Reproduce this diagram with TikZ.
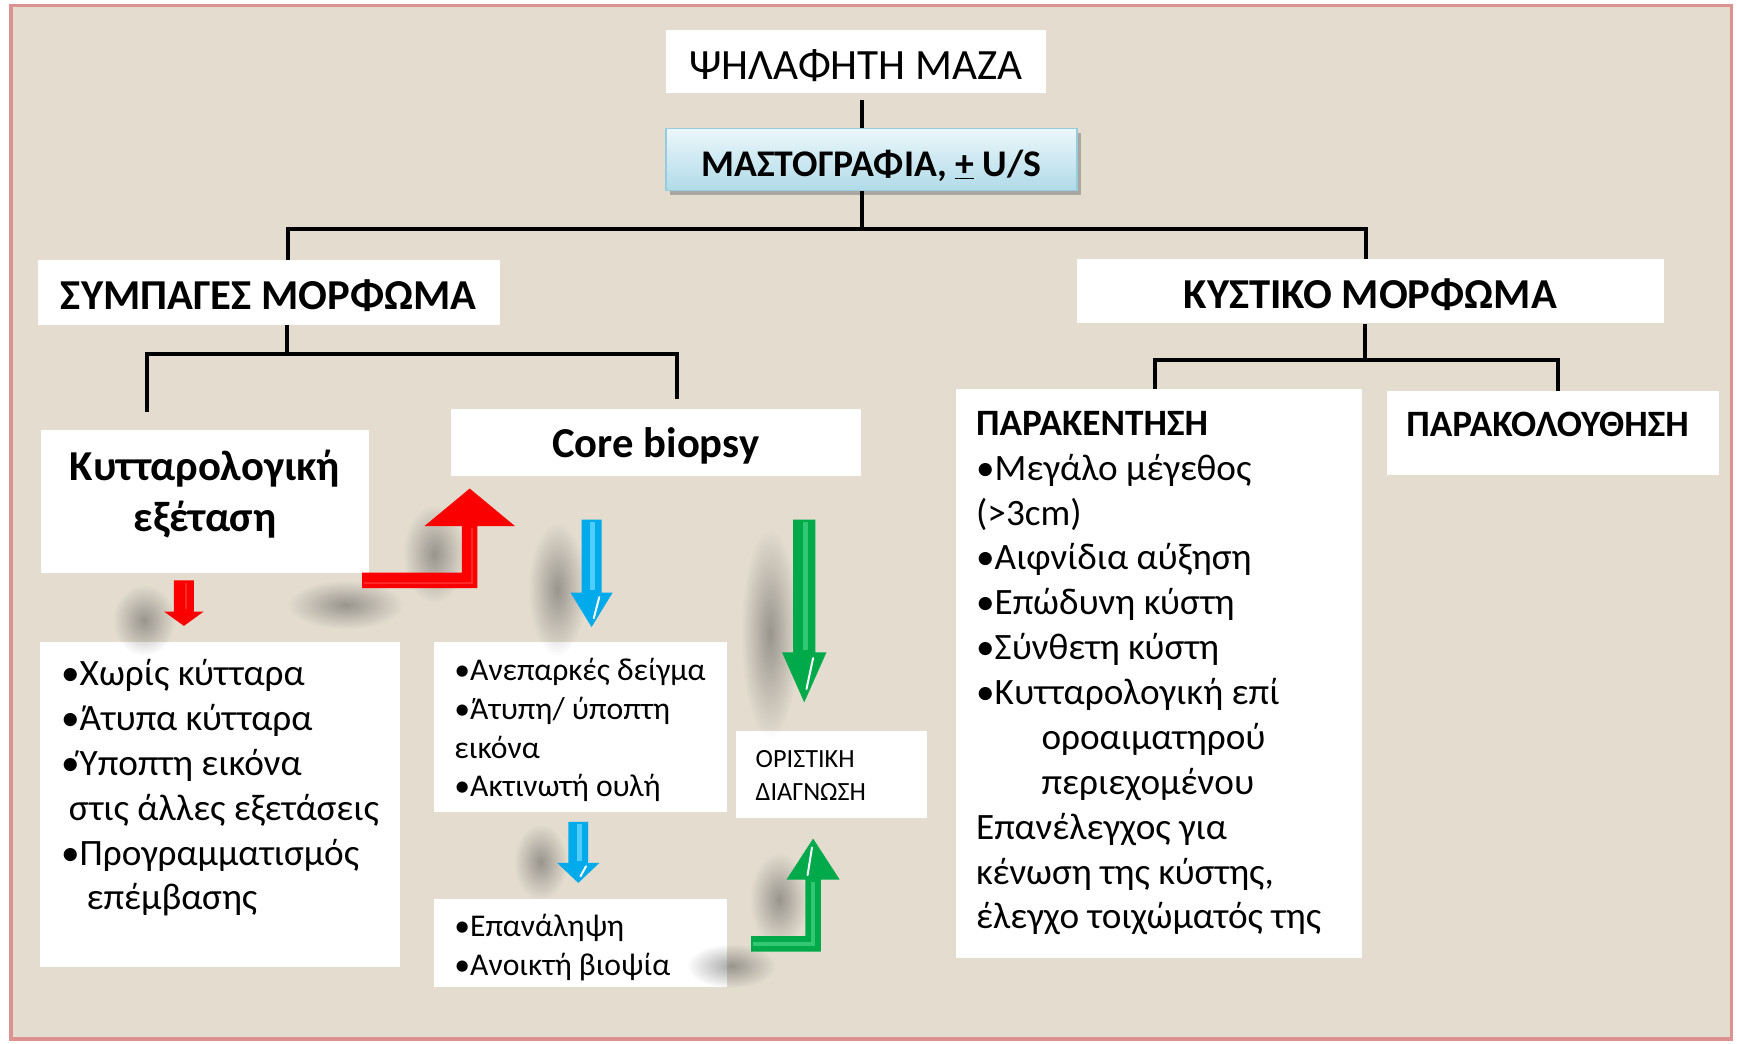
\documentclass[tikz,border=0pt]{standalone}
\usepackage{fontspec}
\setmainfont{Carlito}
\usetikzlibrary{positioning,shadows,fadings}
\definecolor{paper}{RGB}{227,220,207}
\definecolor{frame}{RGB}{221,146,146}
\definecolor{skytop}{RGB}{236,247,251}
\definecolor{skybot}{RGB}{176,219,232}
\definecolor{skyline}{RGB}{150,205,222}
\definecolor{arrred}{RGB}{250,0,0}
\definecolor{arrredlt}{RGB}{255,40,40}
\definecolor{arrblue}{RGB}{0,170,235}
\definecolor{arrbluelt}{RGB}{80,205,250}
\definecolor{arrgreen}{RGB}{0,170,75}
\definecolor{arrgreenlt}{RGB}{50,200,115}
\tikzfading[name=blobfade,inner color=transparent!0,outer color=transparent!100]

\begin{document}
\begin{tikzpicture}[x=1pt,y=-1pt,
every node/.style={inner sep=0pt},
wbox/.style={fill=white,draw=none},
tree/.style={line width=3.6pt},
big/.style={font=\fontsize{39}{46}\selectfont,text height=32.6pt,text depth=0pt},
head/.style={font=\fontsize{38.5}{46}\selectfont\bfseries,text height=31.3pt,text depth=0pt},
txt/.style={font=\fontsize{33.6}{40.5}\selectfont,align=left,anchor=north west},
smalltxt/.style={font=\fontsize{28.6}{35}\selectfont,align=left,anchor=north west},
tinytxt/.style={font=\fontsize{23.7}{30}\selectfont,align=left,anchor=north west},
skybox/.style={top color=skytop,bottom color=skybot,draw=skyline,line width=1.5pt,
  drop shadow={shadow xshift=4pt,shadow yshift=-4pt,fill=black!55}},
blob/.style={fill=black!80,opacity=.42,path fading=blobfade},
gloss/.style={white,line width=1.8pt,line cap=round},
]
\fill[white] (0,0) rectangle (1568,942);
\useasboundingbox (0,0) rectangle (1568,942);
\draw[frame,line width=3pt,fill=paper] (10,5) rectangle (1563,938);

% top of the tree
\node[wbox,big,minimum width=343pt,minimum height=57pt] (psi) at (772.5,55.5) {ΨΗΛΑΦΗΤΗ ΜΑΖΑ};
\node[skybox,font=\fontsize{34}{40}\selectfont\bfseries,text height=30.5pt,text depth=0pt,
  minimum width=371pt,minimum height=56pt] (masto) at (786.5,144) {ΜΑΣΤΟΓΡΑΦΙΑ, \underline{+} U/S};
\node[wbox,head,minimum width=417pt,minimum height=58pt] (symp) at (242.5,264) {ΣΥΜΠΑΓΕΣ ΜΟΡΦΩΜΑ};
\node[wbox,head,minimum width=530pt,minimum height=58pt] (kyst) at (1237,263) {ΚΥΣΤΙΚΟ ΜΟΡΦΩΜΑ};

% solid mass branch
\node[wbox,minimum width=296pt,minimum height=129pt] (kyt) at (185,452.5) {};
\node[head,text height=,text depth=,align=center] (kyttitle) at (185,446) {Κυτταρολογική\\εξέταση};
\node[wbox,head,text depth=4.3pt,minimum width=370pt,minimum height=61pt] (core) at (592,399.5) {Core biopsy};
\node[wbox,minimum width=325pt,minimum height=294pt,anchor=north west] (kytlist) at (36,579) {};
\node[txt] (kyttext) at (55,595) {•Χωρίς κύτταρα\\•Άτυπα κύτταρα\\•Ύποπτη εικόνα\\\hspace*{7pt}στις άλλες εξετάσεις\\•Προγραμματισμός\\\hspace*{23pt}επέμβασης};
\node[wbox,minimum width=264pt,minimum height=154pt,anchor=north west] (corelist) at (392,579) {};
\node[smalltxt] (coretext) at (410,594) {•Ανεπαρκές δείγμα\\•Άτυπη/ ύποπτη\\εικόνα\\•Ακτινωτή ουλή};
\node[wbox,minimum width=264pt,minimum height=80pt,anchor=north west] (again) at (392,811) {};
\node[smalltxt] (againtext) at (410,825) {•Επανάληψη\\•Ανοικτή βιοψία};
\node[wbox,minimum width=173pt,minimum height=78pt,anchor=north west] (orist) at (664,660) {};
\node[tinytxt] (oristtext) at (682,677) {ΟΡΙΣΤΙΚΗ\\ΔΙΑΓΝΩΣΗ};

% cyst branch
\node[wbox,minimum width=366pt,minimum height=514pt,anchor=north west] (parak) at (863,351) {};
\node[txt] (paraktext) at (881,371) {\textbf{ΠΑΡΑΚΕΝΤΗΣΗ}\\•Μεγάλο μέγεθος\\(>3cm)\\•Αιφνίδια αύξηση\\•Επώδυνη κύστη\\•Σύνθετη κύστη\\•Κυτταρολογική επί\\\hspace*{59pt}οροαιματηρού\\\hspace*{59pt}περιεχομένου\\Επανέλεγχος για\\κένωση της κύστης,\\έλεγχο τοιχώματός της};
\node[wbox,font=\fontsize{33.6}{40}\selectfont\bfseries,text height=21.2pt,text depth=14.8pt,
  minimum width=300pt,minimum height=76pt] (parakol) at (1402,391) {ΠΑΡΑΚΟΛΟΥΘΗΣΗ\hspace*{10pt}};

% connectors
\coordinate (j0) at (778,207);
\coordinate (jl) at (260,207);
\coordinate (jr) at (1233,207);
\draw[tree,shorten <=6pt] (psi.south -| j0) -- (masto.north -| j0);
\draw[tree] (masto.south -| j0) -- (j0);
\draw[tree] (symp.north -| jl) -- (jl) -- (jr) -- (kyst.north -| jr);
\coordinate (k0) at (259,320);
\coordinate (kl) at (133,320);
\coordinate (kr) at (611,320);
\draw[tree] (symp.south -| k0) -- (k0);
\draw[tree,shorten <=16pt,shorten >=9pt] (kyt.north -| kl) -- (kl) -- (kr) -- (core.north -| kr);
\coordinate (m0) at (1232,325);
\coordinate (ml) at (1043,325);
\coordinate (mr) at (1406,325);
\draw[tree] (kyst.south -| m0) -- (m0);
\draw[tree] (parak.north -| ml) -- (ml) -- (mr) -- (parakol.north -| mr);

% soft shadows behind the arrows
\fill[blob] (130,560) ellipse (28 and 32);
\fill[blob] (312,546) ellipse (52 and 22);
\fill[blob] (392,500) ellipse (28 and 44);
\fill[blob] (503,532) ellipse (26 and 60);
\fill[blob] (695,572) ellipse (26 and 94);
\fill[blob] (488,778) ellipse (24 and 34);
\fill[blob] (703,812) ellipse (26 and 42);
\fill[blob] (660,872) ellipse (40 and 20);

% block arrows
\fill[arrred] (157,524) -- (175,524) -- (175,552) -- (184,552) -- (166,565) -- (148,552) -- (157,552) -- cycle;
\draw[arrredlt,line width=2pt] (168,526) -- (168,550);
\fill[arrred] (327,517) -- (417,517) -- (417,475) -- (383,475) -- (424,441) -- (465,475) -- (431,475) -- (431,531) -- (327,531) -- cycle;
\draw[arrredlt,line width=2pt] (329,526) -- (426,526) -- (426,477);
\fill[arrblue] (525,469) -- (543,469) -- (543,535) -- (553,535) -- (534,566) -- (515,535) -- (525,535) -- cycle;
\draw[arrbluelt,line width=5pt] (535,471) -- (535,533);
\draw[gloss] (541,539) -- (536,558);
\fill[arrgreen] (716,469) -- (736,469) -- (736,589) -- (746,589) -- (726,634) -- (706,589) -- (716,589) -- cycle;
\draw[arrgreenlt,line width=5pt] (727,471) -- (727,587);
\draw[gloss] (734,594) -- (728,622);
\fill[arrblue] (513,742) -- (531,742) -- (531,779) -- (541,779) -- (522,797) -- (503,779) -- (513,779) -- cycle;
\draw[arrbluelt,line width=5pt] (523,744) -- (523,777);
\draw[gloss] (529,782) -- (524,791);
\fill[arrgreen] (678,845) -- (727,845) -- (727,794) -- (710,794) -- (734,757) -- (758,794) -- (741,794) -- (741,859) -- (678,859) -- cycle;
\draw[arrgreenlt,line width=3.5pt] (680,852) -- (734,852) -- (734,796);
\draw[gloss] (733,765) -- (729,790);
\end{tikzpicture}
\end{document}
